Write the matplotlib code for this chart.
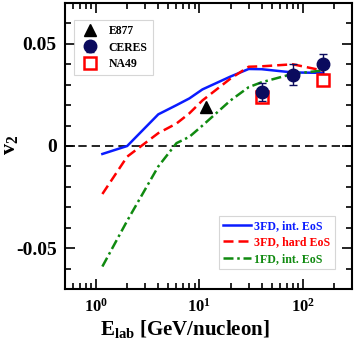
import numpy as np
import matplotlib
matplotlib.use("Agg")
import matplotlib.pyplot as plt
from matplotlib.ticker import MultipleLocator, LogLocator, NullFormatter

plt.rcParams["font.family"] = ["Liberation Serif", "DejaVu Serif"]
plt.rcParams["font.weight"] = "bold"
plt.rcParams["mathtext.fontset"] = "custom"
plt.rcParams["mathtext.rm"] = "Liberation Serif:bold"
plt.rcParams["mathtext.bf"] = "Liberation Serif:bold"
plt.rcParams["mathtext.it"] = "Liberation Serif:bold"
plt.rcParams["axes.unicode_minus"] = False

# model curves
e_model = [1.15, 2, 4, 6, 8, 10.7, 20, 30, 40, 80, 158]
v2_3fd_int = [-0.0039, 0.0, 0.0155, 0.020, 0.0233, 0.0277, 0.034, 0.0377, 0.0376, 0.036, 0.0358]
v2_3fd_hard = [-0.0235, -0.0052, 0.0063, 0.011, 0.016, 0.0223, 0.033, 0.0388, 0.0390, 0.040, 0.0369]
v2_1fd_int = [-0.059, -0.0366, -0.010, 0.0014, 0.0045, 0.010, 0.0223, 0.0288, 0.0312, 0.0353, 0.037]

# experiment
e_e877 = [11.5]
v2_e877 = [0.019]
e_ceres = [40, 80, 158]
v2_ceres = [0.0264, 0.035, 0.0401]
err_ceres = [0.0045, 0.005, 0.0048]
e_na49 = [40, 158]
v2_na49 = [0.0239, 0.0324]

fig = plt.figure(figsize=(3.54, 3.42), dpi=100)
ax = fig.add_axes([65 / 354, 1 - 289 / 342, 287 / 354, 286 / 342])

ax.axhline(0, color="black", lw=1.2, ls=(0, (5, 3)))

l1, = ax.plot(e_model, v2_3fd_int, color="#0a1cff", lw=1.8, label="3FD, int. EoS")
l2, = ax.plot(e_model, v2_3fd_hard, color="#ff0000", lw=1.8, ls=(0, (4, 2)), label="3FD, hard EoS")
l3, = ax.plot(e_model, v2_1fd_int, color="#108a10", lw=1.8, ls=(0, (4, 1.5, 1, 1.5)), label="1FD, int. EoS")

p1, = ax.plot(e_e877, v2_e877, ls="none", marker="^", ms=8, color="black", label="E877")
p2 = ax.errorbar(e_ceres, v2_ceres, yerr=err_ceres, fmt="o", ms=9, color="#0b0b5e",
                 ecolor="#0b0b5e", capsize=3, elinewidth=1, label="CERES")
p3, = ax.plot(e_na49, v2_na49, ls="none", marker="s", ms=8, mfc="none", mec="#ff0000",
              mew=1.8, label="NA49")

ax.set_xscale("log")
ax.set_xlim(0.5, 300)
ax.set_ylim(-0.07, 0.07)
ax.yaxis.set_minor_locator(MultipleLocator(0.01))
ax.set_yticks([-0.05, 0, 0.05])
ax.set_yticklabels(["-0.05", "0", "0.05"])
ax.xaxis.set_minor_locator(LogLocator(base=10, subs=np.arange(2, 10), numticks=20))
ax.xaxis.set_minor_formatter(NullFormatter())

ax.tick_params(which="both", direction="in", top=True, right=True, labelsize=14, width=1.2)
ax.tick_params(which="major", length=7, pad=6)
ax.tick_params(axis="x", which="major", pad=6, labelsize=12)
ax.tick_params(which="minor", length=4)
for s in ax.spines.values():
    s.set_linewidth(1.5)

fig.text(185 / 354, 1 - 335 / 342, r"E$_{\mathbf{lab}}$ [GeV/nucleon]", fontsize=15,
         fontweight="bold", ha="center", va="baseline")
fig.text(10 / 354, 1 - 145 / 342, r"v$_{\mathbf{2}}$", fontsize=16, fontweight="bold",
         rotation=90, ha="center", va="center")

leg1 = ax.legend(handles=[p1, p2, p3], loc="upper left", bbox_to_anchor=(0.031, 0.94),
                 borderaxespad=0, fontsize=8.5, frameon=True, fancybox=False, edgecolor="#cccccc",
                 handlelength=1.8, handletextpad=0.7, borderpad=0.45, labelspacing=0.35)
leg1.get_frame().set_linewidth(0.8)
ax.add_artist(leg1)

leg2 = ax.legend(handles=[l1, l2, l3], loc="lower right", bbox_to_anchor=(0.94, 0.07),
                 borderaxespad=0, fontsize=8.6, frameon=True, fancybox=False, edgecolor="#cccccc",
                 handlelength=2.3, handletextpad=0.3, borderpad=0.35, labelspacing=0.38)
leg2.get_frame().set_linewidth(0.8)
for t, c in zip(leg2.get_texts(), ["#0a1cff", "#ff0000", "#108a10"]):
    t.set_color(c)

fig.savefig("out.png", dpi=100)
